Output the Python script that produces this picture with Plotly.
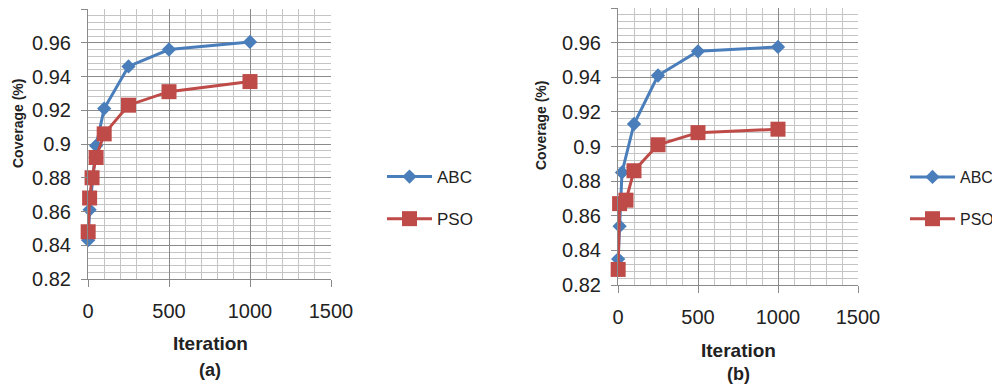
import plotly.graph_objects as go

# ---------------- data ----------------
abc_a_x = [1, 10, 50, 100, 250, 500, 1000]
abc_a_y = [0.843, 0.861, 0.899, 0.921, 0.946, 0.956, 0.9605]
pso_a_x = [1, 10, 25, 50, 100, 250, 500, 1000]
pso_a_y = [0.848, 0.868, 0.880, 0.892, 0.906, 0.923, 0.931, 0.937]

abc_b_x = [1, 10, 25, 100, 250, 500, 1000]
abc_b_y = [0.835, 0.854, 0.885, 0.913, 0.941, 0.955, 0.9575]
pso_b_x = [1, 10, 50, 100, 250, 500, 1000]
pso_b_y = [0.829, 0.867, 0.869, 0.886, 0.901, 0.908, 0.910]

y_ticks = [0.82, 0.84, 0.86, 0.88, 0.90, 0.92, 0.94, 0.96, 0.98]
y_tick_labels = ["0.82", "0.84", "0.86", "0.88", "0.9", "0.92", "0.94", "0.96", "0.98"]
x_ticks = [0, 500, 1000, 1500]
x_tick_labels = ["0", "500", "1000", "1500"]

series_names = ["ABC", "PSO"]
panel_labels = ["(a)", "(b)"]

# ---------------- style ----------------
BLUE = "#4A7EBB"
RED = "#BE4B48"
MAJOR = "#8A8A8A"
MINOR = "#C4C4C4"
FONT = "Liberation Sans"

# page body has an 8px margin; figure is sized so the page fills the window
OFF = 8
W, H = 1000 - OFF, 386 - OFF

def px(x):
    return min(1.0, max(0.0, (x - OFF) / W))

def py(y):
    return min(1.0, max(0.0, 1 - (y - OFF) / H))

fig = go.Figure()

def add_panel(ax, ay, bx, by, xa, ya, legend):
    fig.add_trace(go.Scatter(
        x=ax, y=ay, name=series_names[0], mode="lines+markers",
        line=dict(color=BLUE, width=3),
        marker=dict(symbol="diamond", size=11, color=BLUE),
        xaxis=xa, yaxis=ya, legend=legend, legendgroup=legend + "a",
        cliponaxis=False))
    fig.add_trace(go.Scatter(
        x=bx, y=by, name=series_names[1], mode="lines+markers",
        line=dict(color=RED, width=3),
        marker=dict(symbol="square", size=15, color=RED),
        xaxis=xa, yaxis=ya, legend=legend, legendgroup=legend + "b",
        cliponaxis=False))

add_panel(abc_a_x, abc_a_y, pso_a_x, pso_a_y, "x", "y", "legend")
add_panel(abc_b_x, abc_b_y, pso_b_x, pso_b_y, "x2", "y2", "legend2")

def xaxis_cfg(domain, anchor):
    return dict(
        domain=domain, anchor=anchor, range=[0, 1500.01],
        tickvals=x_ticks, ticktext=x_tick_labels,
        showgrid=True, gridcolor=MAJOR, gridwidth=1,
        minor=dict(dtick=100, showgrid=True, gridcolor=MINOR, gridwidth=1),
        ticks="outside", ticklen=7, tickcolor=MAJOR,
        showline=True, linecolor=MAJOR, linewidth=1,
        ticklabelstandoff=7,
        tickfont=dict(family=FONT, size=20, color="#222222"),
        zeroline=False)

def yaxis_cfg(domain, anchor):
    return dict(
        domain=domain, anchor=anchor, range=[0.8199999, 0.9800001],
        tickvals=y_ticks, ticktext=y_tick_labels,
        showgrid=True, gridcolor=MAJOR, gridwidth=1,
        minor=dict(dtick=0.004, tick0=0.82, showgrid=True, gridcolor=MINOR, gridwidth=1),
        ticks="outside", ticklen=6, tickcolor=MAJOR,
        showline=True, linecolor=MAJOR, linewidth=1,
        ticklabelstandoff=6,
        tickfont=dict(family=FONT, size=20, color="#222222"),
        zeroline=False)

fig.update_layout(
    width=W, height=H,
    margin=dict(l=0, r=0, t=0, b=0, autoexpand=False),
    paper_bgcolor="white", plot_bgcolor="white",
    font=dict(family=FONT, color="#222222"),
    xaxis=xaxis_cfg([px(88), px(331)], "y"),
    yaxis=yaxis_cfg([py(279), py(9)], "x"),
    xaxis2=xaxis_cfg([px(618), px(858)], "y2"),
    yaxis2=yaxis_cfg([py(285), py(8)], "x2"),
    legend=dict(x=px(382), y=py(159), xanchor="left", yanchor="top",
                font=dict(family=FONT, size=17, color="#222222"),
                tracegroupgap=17, itemwidth=45, bgcolor="rgba(0,0,0,0)"),
    legend2=dict(x=px(905), y=py(160), xanchor="left", yanchor="top",
                 font=dict(family=FONT, size=16, color="#222222"),
                 tracegroupgap=18, itemwidth=45, bgcolor="rgba(0,0,0,0)"),
    showlegend=True,
)

annots = [
    dict(x=px(18), y=py(124), text="<b>Coverage (%)</b>", textangle=-90, size=14),
    dict(x=px(541), y=py(126), text="<b>Coverage (%)</b>", textangle=-90, size=14),
    dict(x=px(210), y=py(343), text="<b>Iteration</b>", textangle=0, size=19),
    dict(x=px(738), y=py(350), text="<b>Iteration</b>", textangle=0, size=19),
    dict(x=px(210), y=py(370), text="<b>" + panel_labels[0] + "</b>", textangle=0, size=18),
    dict(x=px(738), y=py(374), text="<b>" + panel_labels[1] + "</b>", textangle=0, size=18),
]
for a in annots:
    fig.add_annotation(x=a["x"], y=a["y"], xref="paper", yref="paper",
                       text=a["text"], textangle=a["textangle"], showarrow=False,
                       xanchor="center", yanchor="middle",
                       font=dict(family=FONT, size=a["size"], color="#222222"))

fig.write_html("out.html")
